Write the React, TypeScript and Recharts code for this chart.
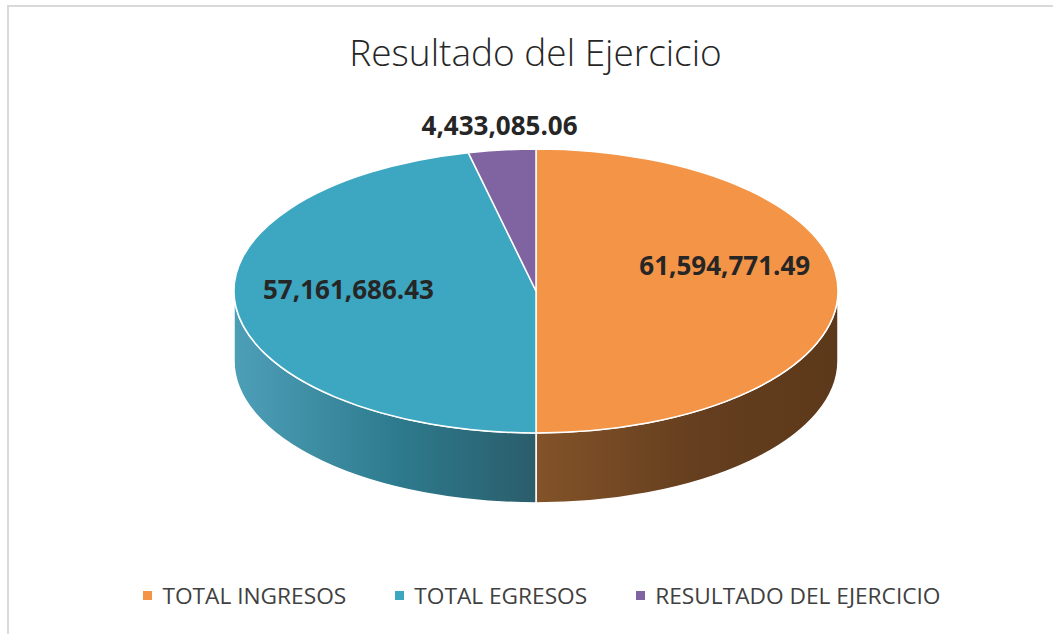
import { PieChart, Pie, Cell, Legend } from 'recharts';

const categories = ['TOTAL INGRESOS', 'TOTAL EGRESOS', 'RESULTADO DEL EJERCICIO'];
const amounts = [61594771.49, 57161686.43, 4433085.06];
const amountLabels = ['61,594,771.49', '57,161,686.43', '4,433,085.06'];

const topColors = ['#F39446', '#3DA7C2', '#8064A2'];
const sideStops = [
  ['#835329', '#643e1e', '#5c391a'],
  ['#4d9fb8', '#2d7a8d', '#2b5d6b'],
  ['#5f4a7a', '#4b3a60', '#3f3152'],
];

const TILT = 0.47; // vertical squash of the disc
const DEPTH = 70; // thickness of the disc in px
const FONT = '"Open Sans", sans-serif';

const data = categories.map((name, i) => ({ name, value: amounts[i] }));

function Slice3D(props: any) {
  const { cx, cy, outerRadius, startAngle, endAngle, fill } = props;
  const idx = Math.max(0, topColors.indexOf(fill));
  const rx = outerRadius;
  const ry = outerRadius * TILT;
  const pt = (a: number, dy = 0) => {
    const r = (a * Math.PI) / 180;
    return `${cx + rx * Math.cos(r)},${cy - ry * Math.sin(r) + dy}`;
  };

  const large = Math.abs(startAngle - endAngle) > 180 ? 1 : 0;
  const sweep = startAngle > endAngle ? 1 : 0;
  const top = `M${cx},${cy} L${pt(startAngle)} A${rx},${ry} 0 ${large} ${sweep} ${pt(endAngle)} Z`;

  // front wall: part of the arc that lies in the lower half of the ellipse
  const hi = Math.max(startAngle, endAngle);
  const lo = Math.min(startAngle, endAngle);
  const sides: string[] = [];
  for (let k = -2; k <= 1; k++) {
    const a1 = Math.min(hi, 360 * k);
    const a2 = Math.max(lo, 360 * k - 180);
    if (a1 - a2 > 0.01) {
      sides.push(
        `M${pt(a1)} A${rx},${ry} 0 0 1 ${pt(a2)} L${pt(a2, DEPTH)} A${rx},${ry} 0 0 0 ${pt(a1, DEPTH)} Z`
      );
    }
  }
  const stops = sideStops[idx];

  return (
    <g>
      <defs>
        <linearGradient id={`side-${idx}`} x1="0" y1="0" x2="1" y2="0">
          <stop offset="0%" stopColor={stops[0]} />
          <stop offset="55%" stopColor={stops[1]} />
          <stop offset="100%" stopColor={stops[2]} />
        </linearGradient>
      </defs>
      {sides.map((d, i) => (
        <path key={i} d={d} fill={`url(#side-${idx})`} stroke="#ffffff" strokeWidth={1.5} />
      ))}
      <path d={top} fill={fill} stroke="#ffffff" strokeWidth={1.5} strokeLinejoin="round" />
    </g>
  );
}

function renderLabel(props: any) {
  const { cx, cy, midAngle, outerRadius, percent, index } = props;
  const rad = (midAngle * Math.PI) / 180;
  const inside = percent > 0.1;
  const fx = inside ? 0.625 : 1.07;
  const fy = inside ? 1.5 : 1.18;
  const x = cx + outerRadius * fx * Math.cos(rad);
  const y = cy - outerRadius * TILT * fy * Math.sin(rad) - (inside ? 26 : 0);
  return (
    <text
      x={x}
      y={y}
      textAnchor="middle"
      dominantBaseline="central"
      fill="#262626"
      style={{ fontFamily: FONT, fontWeight: 700, fontSize: 26 }}
    >
      {amountLabels[index]}
    </text>
  );
}

function renderLegend() {
  return (
    <div
      style={{
        display: 'flex',
        justifyContent: 'center',
        gap: 49,
        fontFamily: FONT,
        fontSize: 22.7,
        color: '#404040',
      }}
    >
      {categories.map((name, i) => (
        <div key={name} style={{ display: 'flex', alignItems: 'center' }}>
          <span
            style={{ width: 9, height: 9, background: topColors[i], marginRight: 10, display: 'inline-block' }}
          />
          <span>{name}</span>
        </div>
      ))}
    </div>
  );
}

export default function App() {
  return (
    <div
      style={{
        position: 'absolute',
        left: 0,
        top: 0,
        width: 1053,
        height: 634,
        overflow: 'hidden',
        background: '#ffffff',
      }}
    >
      <div
        style={{
          position: 'absolute',
          left: 7,
          top: 5,
          width: 1100,
          height: 700,
          border: '2px solid #d9d9d9',
        }}
      />
      <div
        style={{
          position: 'absolute',
          left: 0,
          top: 26,
          width: 1071,
          textAlign: 'center',
          fontFamily: FONT,
          fontWeight: 300,
          fontSize: 37,
          color: '#262626',
        }}
      >
        Resultado del Ejercicio
      </div>
      <div style={{ position: 'absolute', left: 0, top: 0 }}>
        <PieChart width={1053} height={634} margin={{ top: 0, right: 0, bottom: 0, left: 0 }}>
          <Pie
            data={data}
            dataKey="value"
            nameKey="name"
            cx={536}
            cy={291}
            outerRadius={302}
            startAngle={90}
            endAngle={-270}
            shape={Slice3D}
            label={renderLabel}
            labelLine={false}
            stroke="#ffffff"
            isAnimationActive={false}
          >
            {data.map((d, i) => (
              <Cell key={d.name} fill={topColors[i]} />
            ))}
          </Pie>
          <Legend content={renderLegend} wrapperStyle={{ top: 580, left: 0, width: 1084 }} />
        </PieChart>
      </div>
    </div>
  );
}
